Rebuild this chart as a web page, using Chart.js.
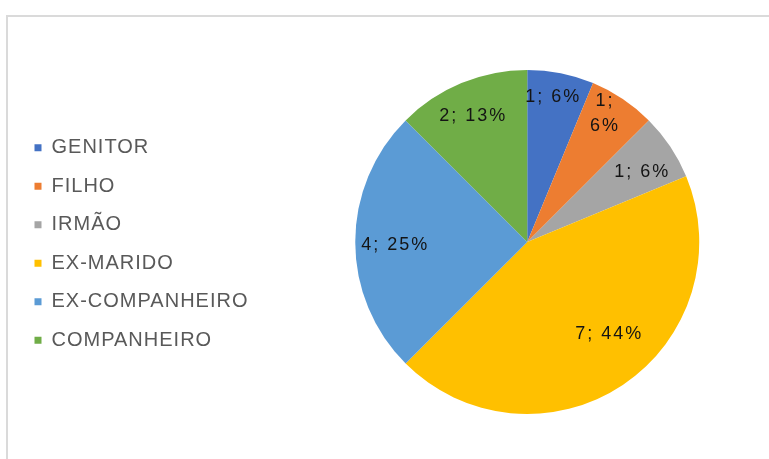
<!DOCTYPE html>
<html>
<head>
<meta charset="utf-8">
<script src="https://cdn.jsdelivr.net/npm/chart.js@4.4.1/dist/chart.umd.min.js"></script>
<style>
  html, body { margin: 0; padding: 0; background: #fff; overflow: hidden; }
  canvas { display: block; }
</style>
</head>
<body>
<canvas id="c" width="769" height="459"></canvas>
<script>
// Agressor por grau de relação
const categories = ['GENITOR', 'FILHO', 'IRMÃO', 'EX-MARIDO', 'EX-COMPANHEIRO', 'COMPANHEIRO'];
const counts = [1, 1, 1, 7, 4, 2];
const sliceColors = ['#4472C4', '#ED7D31', '#A5A5A5', '#FFC000', '#5B9BD5', '#70AD47'];

const FONT = "'Liberation Sans', Arial, Helvetica, sans-serif";

// Label placement per slice: fraction of the radius, angular nudge in degrees, and whether to wrap
const labelLayout = [
  { f: 0.855, off: -1.5 },
  { f: 0.872, off: -3, wrap: true },
  { f: 0.778, off: 2.2 },
  { f: 0.713, off: -7.6 },
  { f: 0.773, off: -1.3 },
  { f: 0.80, off: -1.1 }
];

// Light frame along the top and left edges
const frame = {
  id: 'frame',
  beforeDraw(chart) {
    const c = chart.ctx;
    c.save();
    c.strokeStyle = '#dadada';
    c.lineWidth = 2;
    c.beginPath();
    c.moveTo(7, chart.height);
    c.lineTo(7, 16);
    c.lineTo(chart.width, 16);
    c.stroke();
    c.restore();
  }
};

// Wider tracking for the legend text
const tracking = {
  id: 'tracking',
  beforeLayout(chart) { chart.ctx.letterSpacing = '1px'; },
  beforeDraw(chart) { chart.ctx.letterSpacing = '1px'; }
};

// Let the plot area run past the right edge so the pie sits further right,
// and drop the legend block slightly
const plotArea = {
  id: 'plotArea',
  afterLayout(chart, args, opts) {
    const a = chart.chartArea;
    a.right += opts.extendRight;
    a.width = a.right - a.left;
    if (chart.legend) {
      chart.legend.top += opts.legendDrop;
      chart.legend.bottom += opts.legendDrop;
    }
  }
};

// "value; percent" labels inside each slice
const sliceLabels = {
  id: 'sliceLabels',
  afterDatasetsDraw(chart, args, opts) {
    const ctx = chart.ctx;
    const meta = chart.getDatasetMeta(0);
    const data = chart.data.datasets[0].data;
    const total = data.reduce((a, b) => a + b, 0);
    ctx.save();
    ctx.font = opts.font;
    ctx.fillStyle = opts.color;
    ctx.letterSpacing = opts.letterSpacing + 'px';
    ctx.textAlign = 'center';
    ctx.textBaseline = 'middle';
    meta.data.forEach((arc, i) => {
      const p = arc.getProps(['x', 'y', 'startAngle', 'endAngle', 'outerRadius'], true);
      const lay = opts.layout[i];
      const a = (p.startAngle + p.endAngle) / 2 + lay.off * Math.PI / 180;
      const r = p.outerRadius * lay.f;
      const px = p.x + Math.cos(a) * r;
      const py = p.y + Math.sin(a) * r;
      const text = data[i] + '; ' + Math.round(data[i] / total * 100) + '%';
      const lines = lay.wrap ? text.split(' ') : [text];
      lines.forEach((ln, k) => {
        ctx.fillText(ln, px + opts.letterSpacing / 2, py + (k - (lines.length - 1) / 2) * opts.lineHeight);
      });
    });
    ctx.restore();
  }
};

new Chart(document.getElementById('c'), {
  type: 'pie',
  data: {
    labels: categories,
    datasets: [{
      data: counts,
      backgroundColor: sliceColors,
      borderWidth: 0
    }]
  },
  options: {
    responsive: false,
    animation: false,
    layout: { padding: { left: 16, right: 0, top: 70, bottom: 45 } },
    plugins: {
      legend: {
        position: 'left',
        align: 'center',
        labels: {
          font: { family: FONT, size: 20 },
          color: '#595959',
          boxWidth: 7,
          boxHeight: 7,
          padding: 18.5
        }
      },
      tooltip: { enabled: false },
      plotArea: { extendRight: 27, legendDrop: 2 },
      sliceLabels: {
        font: '18px ' + FONT,
        color: '#141414',
        letterSpacing: 2,
        lineHeight: 25,
        layout: labelLayout
      }
    }
  },
  plugins: [frame, tracking, plotArea, sliceLabels]
});
</script>
</body>
</html>
